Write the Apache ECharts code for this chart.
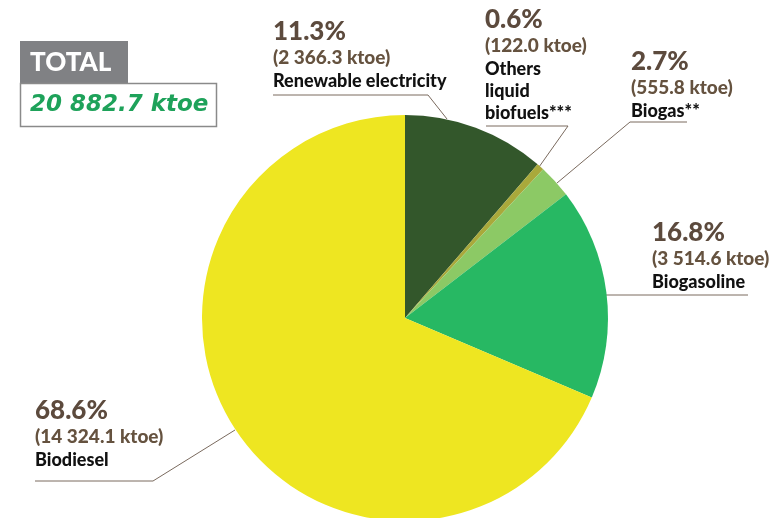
<!DOCTYPE html>
<html>
<head>
<meta charset="utf-8">
<script src="https://cdn.jsdelivr.net/npm/echarts@6/dist/echarts.min.js"></script>
<style>html,body{margin:0;padding:0;background:#fff}#c{width:770px;height:518px}</style>
</head>
<body>
<div id="c"></div>
<script>
const categories = ['Renewable electricity', 'Others\nliquid\nbiofuels***', 'Biogas**', 'Biogasoline', 'Biodiesel'];
const valuesKtoe = [2366.3, 122.0, 555.8, 3514.6, 14324.1];
const percentLabels = ['11.3%', '0.6%', '2.7%', '16.8%', '68.6%'];
const ktoeLabels = ['(2 366.3 ktoe)', '(122.0 ktoe)', '(555.8 ktoe)', '(3 514.6 ktoe)', '(14 324.1 ktoe)'];
const totalLabel = '20 882.7 ktoe';
const colors = ['#33572b', '#a9a93b', '#8cc965', '#27b863', '#eee621'];

// label layout (positions only)
const labelPos = [[273, 18], [485, 6], [631, 48], [652, 219], [35, 397]];
const labelLines = [
  [[447, 119], [428, 95], [273, 95]],
  [[539, 167], [568, 126], [486, 126]],
  [[557, 183], [630, 122], [687, 122]],
  [[606, 295], [677, 295], [748, 295]],
  [[235, 430], [153, 481], [35, 481]]
];

const chart = echarts.init(document.getElementById('c'), null, {renderer: 'canvas'});
const data = categories.map((n, i) => ({
  name: n, value: valuesKtoe[i], itemStyle: {color: colors[i]}
}));

chart.setOption({
  animation: false,
  backgroundColor: '#ffffff',
  graphic: [
    {type: 'rect', shape: {x: 20, y: 41, width: 108, height: 42}, style: {fill: '#808184'}},
    {type: 'text', x: 30, y: 63, style: {text: 'TOTAL', fill: '#ffffff', font: '900 26px Lato', verticalAlign: 'middle'}},
    {type: 'rect', shape: {x: 20.5, y: 83.5, width: 196, height: 43}, style: {fill: '#ffffff', stroke: '#8a8a8a', lineWidth: 1.5}},
    {type: 'text', x: 30, y: 105, style: {text: totalLabel, fill: '#1ea25a', font: 'italic bold 23px "DejaVu Sans"', verticalAlign: 'middle'}}
  ],
  series: [{
    type: 'pie',
    center: [405, 318],
    radius: [0, 203],
    startAngle: 90,
    clockwise: true,
    avoidLabelOverlap: false,
    emphasis: {scale: false, disabled: true},
    itemStyle: {borderWidth: 0},
    data: data,
    label: {
      show: true,
      position: 'outside',
      formatter: p => '{p|' + percentLabels[p.dataIndex] + '}\n{v|' + ktoeLabels[p.dataIndex] + '}\n' +
        p.name.split('\n').map(s => '{n|' + s + '}').join('\n'),
      rich: {
        p: {fontFamily: 'Lato', fontWeight: 900, fontSize: 26, lineHeight: 28, color: '#5c4a3d'},
        v: {fontFamily: 'Lato', fontWeight: 900, fontSize: 19, lineHeight: 24, color: '#65523f'},
        n: {fontFamily: 'Lato', fontWeight: 900, fontSize: 18, lineHeight: 22, color: '#111111'}
      }
    },
    labelLine: {show: true, smooth: false, lineStyle: {color: '#7a6a5e', width: 1}},
    labelLayout: function (params) {
      const i = params.dataIndex;
      return {
        x: labelPos[i][0], y: labelPos[i][1],
        align: 'left', verticalAlign: 'top',
        labelLinePoints: labelLines[i]
      };
    }
  }]
});
</script>
</body>
</html>
